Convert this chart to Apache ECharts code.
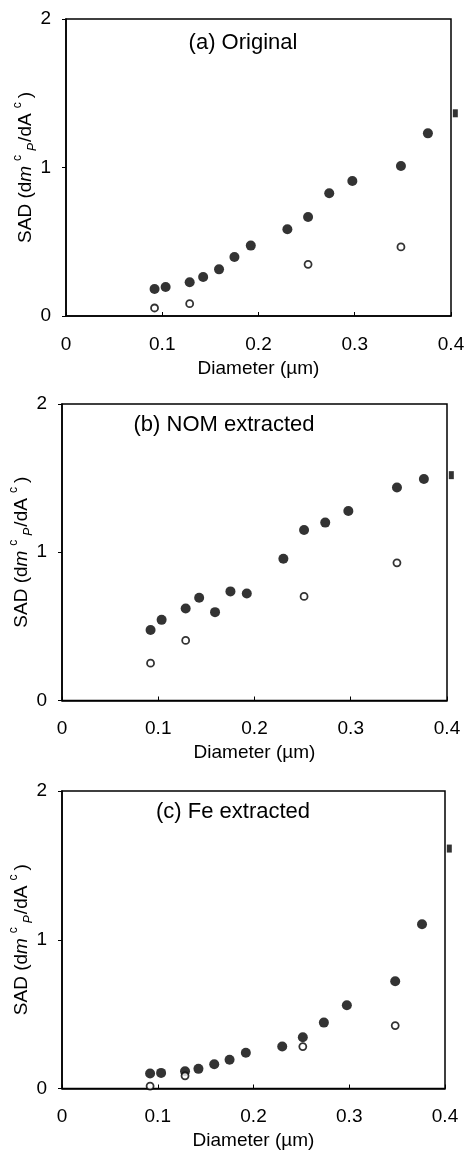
<!DOCTYPE html>
<html>
<head>
<meta charset="utf-8">
<script src="https://cdn.jsdelivr.net/npm/echarts@6/dist/echarts.min.js"></script>
<style>
html,body{margin:0;padding:0;background:#fff;}
#chart{width:465px;height:1152px;}
</style>
</head>
<body>
<div id="chart"></div>
<script>
// ---- data ----
const panelTitles = ['(a) Original', '(b) NOM extracted', '(c) Fe extracted'];
const xTicks = ['0', '0.1', '0.2', '0.3', '0.4'];
const yTicks = ['0', '1', '2'];
const diameters = [0.092, 0.1035, 0.1285, 0.1425, 0.159, 0.175, 0.192, 0.230, 0.2515, 0.2735, 0.2975, 0.348, 0.376];
const openDiameters = [0.092, 0.1285, 0.2515, 0.348];
const edgeDiameter = 0.4045;

const filledA = [0.182, 0.195, 0.227, 0.263, 0.314, 0.397, 0.474, 0.584, 0.667, 0.826, 0.909, 1.010, 1.230];
const openA = [0.054, 0.083, 0.348, 0.465];
const edgeA = 1.365;

const filledB = [0.475, 0.544, 0.621, 0.693, 0.596, 0.736, 0.722, 0.956, 1.150, 1.200, 1.278, 1.437, 1.494];
const openB = [0.252, 0.405, 0.702, 0.929];
const edgeB = 1.52;

const filledC = [0.101, 0.105, 0.116, 0.132, 0.163, 0.193, 0.240, 0.282, 0.345, 0.443, 0.560, 0.721, 1.104];
const openC = [0.016, 0.085, 0.282, 0.423];
const edgeC = 1.613;

// ---- layout ----
const FONT = '"Liberation Sans", Arial, sans-serif';
const grids = [
  {left: 66, top: 19, width: 385, height: 297},
  {left: 62, top: 404, width: 385, height: 296.5},
  {left: 62, top: 791, width: 383, height: 297.5}
];
const titlePos = [[243, 43], [224, 425], [233, 812]];

const filled = [filledA, filledB, filledC];
const opens = [openA, openB, openC];
const edges = [edgeA, edgeB, edgeC];

const chart = echarts.init(document.getElementById('chart'), null, {renderer: 'canvas'});

const option = {
  backgroundColor: '#fff',
  animation: false,
  grid: grids.map(g => Object.assign({
    show: true, borderColor: '#000', borderWidth: 1.5, backgroundColor: '#fff',
    containLabel: false, outerBoundsMode: 'none'
  }, g)),
  xAxis: grids.map((g, i) => ({
    type: 'value', gridIndex: i, min: 0, max: 0.4, interval: 0.1,
    name: 'Diameter (µm)', nameLocation: 'middle', nameGap: 43, nameMoveOverlap: false,
    nameTextStyle: {fontFamily: FONT, fontSize: 19, color: '#000'},
    axisLine: {show: true, lineStyle: {color: '#000', width: 1.5}},
    axisTick: {show: true, inside: true, length: 4, lineStyle: {color: '#000'}},
    axisLabel: {
      fontFamily: FONT, fontSize: 19, color: '#000', margin: 19,
      formatter: v => xTicks[Math.round(v * 10)]
    },
    splitLine: {show: false}
  })),
  yAxis: grids.map((g, i) => ({
    type: 'value', gridIndex: i, min: 0, max: 2, interval: 1,
    name: 'SAD (d{m|m}{sup|c}{sub|P}/dA{sup|c})', nameLocation: 'middle', nameGap: 27, nameMoveOverlap: false,
    nameTextStyle: {
      fontFamily: FONT, fontSize: 19, color: '#000', lineHeight: 27,
      rich: {
        m: {fontFamily: FONT, fontSize: 19, fontStyle: 'italic', color: '#000', lineHeight: 27},
        sup: {fontFamily: FONT, fontSize: 12, color: '#000', verticalAlign: 'top', lineHeight: 12, padding: [0, 4, 0, 5]},
        sub: {fontFamily: FONT, fontSize: 12, fontStyle: 'italic', color: '#000', verticalAlign: 'bottom', lineHeight: 12, padding: [0, 1, 0, 0]}
      }
    },
    axisLine: {show: true, lineStyle: {color: '#000', width: 1.5}},
    axisTick: {show: true, inside: false, length: 4, lineStyle: {color: '#000'}},
    axisLabel: {
      fontFamily: FONT, fontSize: 19, color: '#000', margin: 15,
      formatter: v => yTicks[Math.round(v)]
    },
    splitLine: {show: false}
  })),
  graphic: titlePos.map((p, i) => ({
    type: 'text', x: p[0], y: p[1], z: 100,
    style: {text: panelTitles[i], font: '22px ' + FONT, fill: '#000', align: 'center', verticalAlign: 'middle'}
  })),
  series: []
};

for (let i = 0; i < 3; i++) {
  option.series.push({
    type: 'scatter', xAxisIndex: i, yAxisIndex: i, name: 'filled' + i,
    symbol: 'circle', symbolSize: 10,
    itemStyle: {color: '#000'},
    data: diameters.map((d, k) => [d, filled[i][k]])
  });
  option.series.push({
    type: 'scatter', xAxisIndex: i, yAxisIndex: i, name: 'open' + i,
    symbol: 'circle', symbolSize: 7,
    itemStyle: {color: '#fff', borderColor: '#000', borderWidth: 1.8},
    data: openDiameters.map((d, k) => [d, opens[i][k]])
  });
  option.series.push({
    type: 'scatter', xAxisIndex: i, yAxisIndex: i, name: 'edge' + i,
    symbol: 'rect', symbolSize: [5, 8], clip: false,
    itemStyle: {color: '#000'},
    data: [[edgeDiameter, edges[i]]]
  });
}

chart.setOption(option);
</script>
</body>
</html>
